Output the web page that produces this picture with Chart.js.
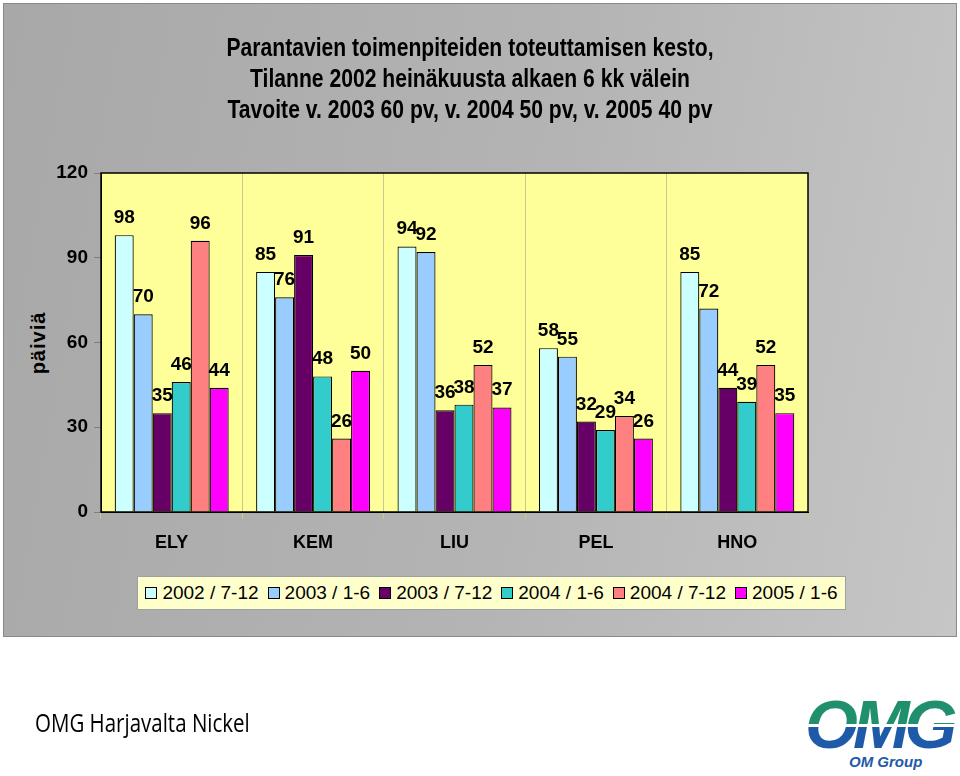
<!DOCTYPE html>
<html>
<head>
<meta charset="utf-8">
<script src="https://cdn.jsdelivr.net/npm/chart.js@4"></script>
<style>
  body { margin: 0; width: 960px; height: 776px; background: #fff; position: relative; overflow: hidden; font-family: Arial, "Liberation Sans", sans-serif; }
  #panel { position: absolute; left: 3px; top: 3px; width: 954px; height: 634px; border: 1px solid #8a8a8a; box-sizing: border-box;
    background: linear-gradient(100deg, #a8a8a8 0%, #b4b4b4 55%, #c6c6c6 100%); }
  #title { position: absolute; left: 0; width: 940px; top: 32px; text-align: center; font-family: "Liberation Sans Narrow", "Arial Narrow", Arial, sans-serif;
    font-weight: bold; font-size: 25px; line-height: 31px; color: #000; transform: scaleX(0.845); transform-origin: 470px 0; }
  #ytitle { position: absolute; left: 38px; top: 343px; transform: translate(-50%, -50%) rotate(-90deg); font-weight: bold; font-size: 20px; letter-spacing: 1px; }
  #chartWrap { position: absolute; left: 0; top: 150px; width: 960px; height: 410px; }
  #legend { position: absolute; left: 137px; top: 576px; width: 709px; height: 34px; box-sizing: border-box; background: #ffffcc; border: 1px solid #a0a0a0;
    display: flex; align-items: center; justify-content: center; gap: 9px; font-size: 19px; white-space: nowrap; }
  #legend .item { display: flex; align-items: center; gap: 5px; }
  #legend .sw { width: 10px; height: 10px; border: 1px solid #000; }
  #footer { position: absolute; left: 35px; top: 705px; font-family: "Open Sans", sans-serif; font-size: 25px; color: #000;
    transform: scaleX(0.82); transform-origin: 0 0; white-space: nowrap; }
  #logo { position: absolute; left: 805px; top: 690px; width: 154px; height: 84px; }
  #logo .omg { font-family: Arial, sans-serif; font-weight: 900; font-style: italic; font-size: 68px; line-height: 68px; letter-spacing: -5px;
    background: linear-gradient(180deg, #1f8f6e 0%, #1f8f6e 50%, #ffffff 50%, #ffffff 54%, #1e5aa8 54%, #1e5aa8 100%);
    -webkit-background-clip: text; background-clip: text; color: transparent; }
  #logo .grp { position: absolute; left: 44px; top: 63px; font-weight: bold; font-style: italic; font-size: 15px; color: #1e5aa8; }
</style>
</head>
<body>
<div id="panel"></div>
<div id="title">Parantavien toimenpiteiden toteuttamisen kesto,<br>Tilanne 2002 heinäkuusta alkaen 6 kk välein<br>Tavoite v. 2003 60 pv, v. 2004 50 pv, v. 2005 40 pv</div>
<div id="ytitle">päiviä</div>
<div id="chartWrap"><canvas id="myChart" width="960" height="410"></canvas></div>
<div id="legend"></div>
<div id="footer">OMG Harjavalta Nickel</div>
<div id="logo"><div class="omg">OMG</div><div class="grp">OM Group</div></div>
<script>
const categories = ["ELY", "KEM", "LIU", "PEL", "HNO"];
const seriesNames = ["2002 / 7-12", "2003 / 1-6", "2003 / 7-12", "2004 / 1-6", "2004 / 7-12", "2005 / 1-6"];
const s2002b = [98, 85, 94, 58, 85];
const s2003a = [70, 76, 92, 55, 72];
const s2003b = [35, 91, 36, 32, 44];
const s2004a = [46, 48, 38, 29, 39];
const s2004b = [96, 26, 52, 34, 52];
const s2005a = [44, 50, 37, 26, 35];
const yTicks = [0, 30, 60, 90, 120];

const seriesValues = [s2002b, s2003a, s2003b, s2004a, s2004b, s2005a];
const colors = ["#ccffff", "#99ccff", "#660066", "#33cccc", "#ff8080", "#ff00ff"];

/*legend*/
let legend = document.getElementById("legend");
seriesNames.forEach((name, i) => {
  let item = document.createElement("div");
  item.className = "item";
  item.innerHTML = `<span class="sw" style="background:${colors[i]}"></span><span>${name}</span>`;
  legend.append(item);
});

/*plot background, border and value labels*/
const plotDecor = {
  id: "plotDecor",
  beforeDraw(chart) {
    const a = chart.chartArea;
    chart.ctx.save();
    chart.ctx.fillStyle = "#ffff99";
    chart.ctx.fillRect(a.left, a.top, a.right - a.left, a.bottom - a.top);
    chart.ctx.restore();
  },
  afterDatasetsDraw(chart) {
    const ctx = chart.ctx;
    const a = chart.chartArea;
    ctx.save();
    ctx.strokeStyle = "#000";
    ctx.lineWidth = 1.5;
    ctx.strokeRect(a.left, a.top, a.right - a.left, a.bottom - a.top);
    ctx.font = "bold 19px Arial, 'Liberation Sans', sans-serif";
    ctx.fillStyle = "#000";
    ctx.textAlign = "center";
    ctx.textBaseline = "alphabetic";
    chart.data.datasets.forEach((ds, i) => {
      chart.getDatasetMeta(i).data.forEach((bar, j) => {
        ctx.fillText(ds.data[j], bar.x, bar.y - 12);
      });
    });
    ctx.restore();
  },
};

let ctx = document.getElementById("myChart").getContext("2d");
let myChart = new Chart(ctx, {
  type: "bar",
  data: {
    labels: categories,
    datasets: seriesNames.map((name, i) => ({
      label: name,
      data: seriesValues[i],
      backgroundColor: colors[i],
      borderColor: "#000",
      borderWidth: 1.2,
      categoryPercentage: 0.806,
      barPercentage: 1,
    })),
  },
  options: {
    responsive: false,
    animation: false,
    layout: { padding: { left: 0, right: 152, top: 23, bottom: 0 } },
    plugins: { legend: { display: false }, title: { display: false }, tooltip: { enabled: false } },
    scales: {
      x: {
        afterFit: (axis) => { axis.height = 48; },
        grid: { display: true, offset: true, drawOnChartArea: true, color: "#c9c98f", tickLength: 7 },
        border: { color: "#000" },
        ticks: { color: "#000", padding: 13, font: { family: "Arial, 'Liberation Sans'", size: 18, weight: "bold" } },
      },
      y: {
        min: 0,
        max: 120,
        afterFit: (axis) => { axis.width = 101; },
        afterBuildTicks: (axis) => { axis.ticks = yTicks.map((v) => ({ value: v })); },
        grid: { drawOnChartArea: false, color: "#808080", tickLength: 7 },
        border: { color: "#000" },
        ticks: { color: "#000", padding: 6, font: { family: "Arial, 'Liberation Sans'", size: 19, weight: "bold" } },
      },
    },
  },
  plugins: [plotDecor],
});
</script>
</body>
</html>
